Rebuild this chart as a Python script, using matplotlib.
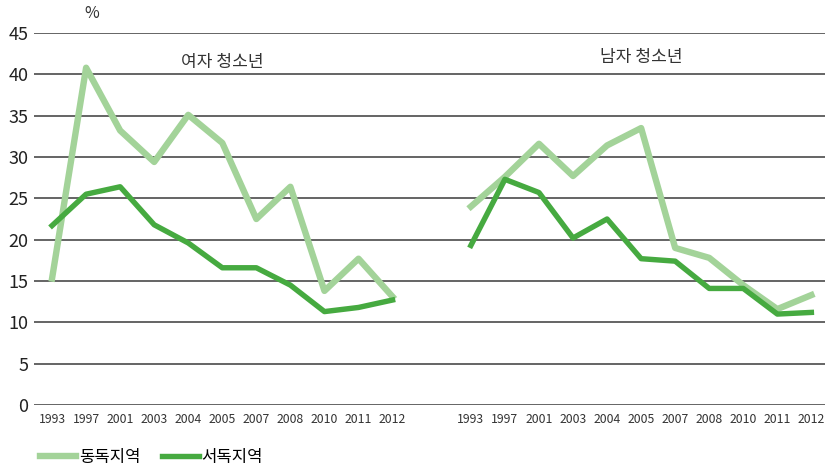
import numpy as np
import matplotlib
matplotlib.use('Agg')
import matplotlib.pyplot as plt

plt.rcParams['font.family'] = ['Noto Sans CJK KR', 'DejaVu Sans']

years = ['1993', '1997', '2001', '2003', '2004', '2005', '2007', '2008', '2010', '2011', '2012']
groups = ['여자 청소년', '남자 청소년']
series = ['동독지역', '서독지역']

# female
east_f = [15.3, 40.8, 33.2, 29.4, 35.1, 31.7, 22.5, 26.4, 13.8, 17.7, 13.1]
west_f = [21.7, 25.5, 26.4, 21.8, 19.6, 16.6, 16.6, 14.5, 11.3, 11.8, 12.7]
# male
east_m = [24.0, 27.6, 31.6, 27.7, 31.4, 33.5, 19.0, 17.8, 14.5, 11.6, 13.3]
west_m = [19.3, 27.3, 25.7, 20.2, 22.5, 17.7, 17.4, 14.1, 14.1, 11.0, 11.2]

light = '#a3d399'
dark = '#46aa40'

fig = plt.figure(figsize=(8.25, 4.69), dpi=100)
ax = fig.add_axes([34/825, 1 - 405/469, 1 - 34/825, (405 - 33)/469])

n = len(years)
x_f = np.arange(n)
x_m = np.arange(n) + 12.3

for y in range(0, 50, 5):
    ax.axhline(y, color='#4a4a4a', lw=1.2, zorder=1)

l1, = ax.plot(x_f, east_f, color=light, lw=4.6, label=series[0], zorder=3, clip_on=False)
l2, = ax.plot(x_f, west_f, color=dark, lw=3.9, label=series[1], zorder=4, clip_on=False)
ax.plot(x_m, east_m, color=light, lw=4.6, zorder=3, clip_on=False)
ax.plot(x_m, west_m, color=dark, lw=3.9, zorder=4, clip_on=False)

ax.set_xlim(-0.53, 22.7)
ax.set_ylim(0, 45)
ax.set_yticks(range(0, 50, 5))
ax.tick_params(axis='y', length=0, labelsize=13, pad=4, labelcolor='#222222')
ax.set_xticks(list(x_f) + list(x_m))
ax.set_xticklabels(years + years)
ax.tick_params(axis='x', length=0, labelsize=8.8, pad=6, labelcolor='#333333')
for s in ax.spines.values():
    s.set_visible(False)

ax.text(5.0, 41.5, groups[0], ha='center', va='center', fontsize=12.3, color='#333333')
ax.text(17.3, 42.1, groups[1], ha='center', va='center', fontsize=12.3, color='#333333')
fig.text(92/825, 1 - 14/469, '%', ha='center', va='center', fontsize=11.5, color='#333333')

fig.legend(handles=[l1, l2], loc='center left', bbox_to_anchor=(0.04, 1 - 457/469),
           ncol=2, frameon=False, fontsize=12, handlelength=2.2, handletextpad=0.15,
           columnspacing=1.3, borderaxespad=0)

fig.savefig('out.png', dpi=100)
